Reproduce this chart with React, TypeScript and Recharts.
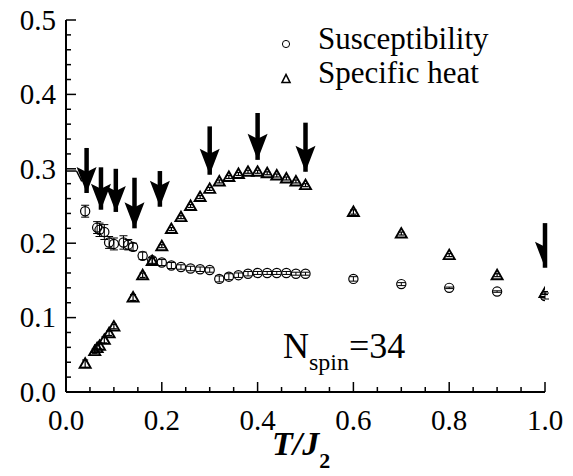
import { ScatterChart, Scatter, XAxis, YAxis, ErrorBar, ReferenceLine } from 'recharts';

const FONT = "'Liberation Serif', 'Times New Roman', Times, serif";

// susceptibility (circles)
const suscT = [0.04, 0.065, 0.07, 0.08, 0.09, 0.1, 0.12, 0.13, 0.14, 0.16, 0.18, 0.2, 0.22, 0.24, 0.26, 0.28, 0.3, 0.32, 0.34, 0.36, 0.38, 0.4, 0.42, 0.44, 0.46, 0.48, 0.5, 0.6, 0.7, 0.8, 0.9, 1.0];
const suscVal = [0.243, 0.221, 0.218, 0.215, 0.201, 0.199, 0.201, 0.198, 0.195, 0.183, 0.177, 0.174, 0.170, 0.168, 0.166, 0.165, 0.164, 0.152, 0.155, 0.157, 0.159, 0.160, 0.160, 0.160, 0.160, 0.159, 0.159, 0.152, 0.145, 0.140, 0.135, 0.129];
const suscErr = [0.008, 0.008, 0.009, 0.010, 0.008, 0.008, 0.009, 0.007, 0.005, 0.005, 0.004, 0.004, 0.004, 0.003, 0.003, 0.003, 0.003, 0.004, 0.004, 0.003, 0.003, 0.002, 0.002, 0.002, 0.002, 0.002, 0.002, 0.003, 0.002, 0.001, 0.001, 0.004];

// specific heat (triangles)
const heatT = [0.04, 0.06, 0.065, 0.07, 0.08, 0.09, 0.1, 0.14, 0.16, 0.18, 0.2, 0.22, 0.24, 0.26, 0.28, 0.3, 0.32, 0.34, 0.36, 0.38, 0.4, 0.42, 0.44, 0.46, 0.48, 0.5, 0.6, 0.7, 0.8, 0.9, 1.0];
const heatVal = [0.038, 0.055, 0.059, 0.062, 0.070, 0.079, 0.088, 0.127, 0.157, 0.176, 0.196, 0.219, 0.235, 0.250, 0.262, 0.273, 0.283, 0.289, 0.293, 0.296, 0.296, 0.294, 0.291, 0.287, 0.283, 0.278, 0.242, 0.213, 0.184, 0.157, 0.133];
const heatErr = [0.005, 0.003, 0.004, 0.004, 0.004, 0.003, 0.003, 0.004, 0.003, 0.004, 0.002, 0.002, 0.002, 0.002, 0.002, 0.002, 0.002, 0.002, 0.002, 0.002, 0.002, 0.002, 0.002, 0.002, 0.002, 0.002, 0.003, 0.002, 0.002, 0.002, 0.002];

// arrows: x, tip, tail
const arrowT = [0.043, 0.073, 0.104, 0.143, 0.196, 0.3, 0.4, 0.5, 1.0];
const arrowTip = [0.2675, 0.245, 0.242, 0.22, 0.249, 0.292, 0.312, 0.296, 0.167];
const arrowTop = [0.328, 0.302, 0.3, 0.288, 0.297, 0.357, 0.375, 0.362, 0.227];

const xTicks = [0, 0.05, 0.1, 0.15, 0.2, 0.25, 0.3, 0.35, 0.4, 0.45, 0.5, 0.55, 0.6, 0.65, 0.7, 0.75, 0.8, 0.85, 0.9, 0.95, 1.0];
const yTicks = [0, 0.02, 0.04, 0.06, 0.08, 0.1, 0.12, 0.14, 0.16, 0.18, 0.2, 0.22, 0.24, 0.26, 0.28, 0.3, 0.32, 0.34, 0.36, 0.38, 0.4, 0.42, 0.44, 0.46, 0.48, 0.5];

const suscData = suscT.map((t, i) => ({ x: t, y: suscVal[i], err: suscErr[i] }));
const heatData = heatT.map((t, i) => ({ x: t, y: heatVal[i], err: heatErr[i] }));
const arrowData = arrowT.map((t, i) => ({ x: t, y: arrowTip[i] }));

const isMajorX = (v: number) => Math.round(v * 100) % 20 === 0;
const isMajorY = (v: number) => Math.round(v * 100) % 10 === 0;

const BottomTick = ({ x, y, payload }: any) => {
  const major = isMajorX(payload.value);
  return (
    <g>
      <line x1={x} x2={x} y1={y} y2={y - (major ? 10 : 5)} stroke="#000" strokeWidth={1.5} />
      {major && (
        <text x={x} y={y + 38} textAnchor="middle" fontSize={29} style={{ fontFamily: FONT }} fill="#000">
          {payload.value.toFixed(1)}
        </text>
      )}
    </g>
  );
};

const TopTick = ({ x, y, payload }: any) => {
  const major = isMajorX(payload.value);
  return <line x1={x} x2={x} y1={y} y2={y + (major ? 10 : 5)} stroke="#000" strokeWidth={1.5} />;
};

const LeftTick = ({ x, y, payload }: any) => {
  const major = isMajorY(payload.value);
  return (
    <g>
      <line x1={x} x2={x + (major ? 10 : 5)} y1={y} y2={y} stroke="#000" strokeWidth={1.5} />
      {major && (
        <text x={x - 10} y={y} dy="0.34em" textAnchor="end" fontSize={29} style={{ fontFamily: FONT }} fill="#000">
          {payload.value.toFixed(1)}
        </text>
      )}
    </g>
  );
};

const RightTick = ({ x, y, payload }: any) => {
  const major = isMajorY(payload.value);
  return <line x1={x} x2={x - (major ? 10 : 5)} y1={y} y2={y} stroke="#000" strokeWidth={1.5} />;
};

const Circle = ({ cx, cy }: any) => <circle cx={cx} cy={cy} r={4.6} fill="none" stroke="#000" strokeWidth={1.2} />;

const Triangle = ({ cx, cy }: any) => (
  <path d={`M${cx},${cy - 5.5}L${cx - 5.5},${cy + 4}L${cx + 5.5},${cy + 4}Z`} fill="none" stroke="#000" strokeWidth={1.9} strokeLinejoin="miter" />
);

const ArrowHead = ({ cx, cy }: any) => (
  <path d={`M${cx},${cy}L${cx - 10},${cy - 26}L${cx},${cy - 21}L${cx + 10},${cy - 26}Z`} fill="#000" />
);

export default function App() {
  return (
    <div style={{ position: 'absolute', left: 0, top: 0, width: 573, height: 476, background: '#fff', fontFamily: FONT }}>
      <ScatterChart width={573} height={476} margin={{ top: 20, right: 28, bottom: 0, left: 0 }}>
        <XAxis dataKey="x" type="number" domain={[0, 1]} ticks={xTicks} interval={0} height={84}
          allowDataOverflow tickLine={false} tickSize={0} tickMargin={0} tick={BottomTick}
          axisLine={{ stroke: '#000', strokeWidth: 2 }} />
        <XAxis xAxisId="top" orientation="top" type="number" domain={[0, 1]} ticks={xTicks} interval={0} height={0}
          allowDataOverflow tickLine={false} tickSize={0} tickMargin={0} tick={TopTick}
          axisLine={{ stroke: '#000', strokeWidth: 2 }} />
        <YAxis dataKey="y" type="number" domain={[0, 0.5]} ticks={yTicks} interval={0} width={66}
          allowDataOverflow tickLine={false} tickSize={0} tickMargin={0} tick={LeftTick}
          axisLine={{ stroke: '#000', strokeWidth: 2 }} />
        <YAxis yAxisId="right" orientation="right" type="number" domain={[0, 0.5]} ticks={yTicks} interval={0} width={0}
          allowDataOverflow tickLine={false} tickSize={0} tickMargin={0} tick={RightTick}
          axisLine={{ stroke: '#000', strokeWidth: 2 }} />

        <ReferenceLine segment={[{ x: 0, y: 0.297 }, { x: 0.022, y: 0.297 }]} stroke="#000" strokeWidth={1.5} ifOverflow="visible" />
        <ReferenceLine segment={[{ x: 0.022, y: 0.297 }, { x: 0.033, y: 0.283 }]} stroke="#000" strokeWidth={1.5} ifOverflow="visible" />

        <Scatter data={suscData} shape={Circle} isAnimationActive={false}>
          <ErrorBar dataKey="err" direction="y" width={4} stroke="#000" strokeWidth={1} />
        </Scatter>
        <Scatter data={heatData} shape={Triangle} isAnimationActive={false}>
          <ErrorBar dataKey="err" direction="y" width={3} stroke="#000" strokeWidth={1.2} />
        </Scatter>

        {arrowT.map((t, i) => (
          <ReferenceLine key={i} segment={[{ x: t, y: arrowTop[i] }, { x: t, y: arrowTip[i] }]}
            stroke="#000" strokeWidth={4.5} ifOverflow="visible" />
        ))}
        <Scatter data={arrowData} shape={ArrowHead} isAnimationActive={false} />
      </ScatterChart>

      {/* legend */}
      <div style={{ position: 'absolute', left: 279, top: 37, width: 14, height: 14 }}>
        <svg width={14} height={14}><circle cx={7} cy={7} r={3.6} fill="none" stroke="#000" strokeWidth={1} /></svg>
      </div>
      <div style={{ position: 'absolute', left: 279, top: 72, width: 14, height: 14 }}>
        <svg width={14} height={14}><path d="M7,2.5L3,10.5L11,10.5Z" fill="none" stroke="#000" strokeWidth={1.6} /></svg>
      </div>
      <div style={{ position: 'absolute', left: 318, top: 22, fontSize: 31, lineHeight: '34px', color: '#000', whiteSpace: 'nowrap' }}>
        <div>Susceptibility</div>
        <div>Specific heat</div>
      </div>

      {/* N_spin label */}
      <div style={{ position: 'absolute', left: 283, top: 326, fontSize: 36, lineHeight: '40px', color: '#000', whiteSpace: 'nowrap' }}>
        N<sub style={{ fontSize: 24, verticalAlign: '-0.5em', lineHeight: 0 }}>spin</sub>=34
      </div>

      {/* x axis title */}
      <div style={{ position: 'absolute', left: 272, top: 424, fontSize: 34, lineHeight: '40px', fontStyle: 'italic', fontWeight: 'bold', color: '#000', whiteSpace: 'nowrap' }}>
        T/J<sub style={{ fontSize: 22, verticalAlign: '-0.6em', lineHeight: 0, fontStyle: 'normal' }}>2</sub>
      </div>
    </div>
  );
}
